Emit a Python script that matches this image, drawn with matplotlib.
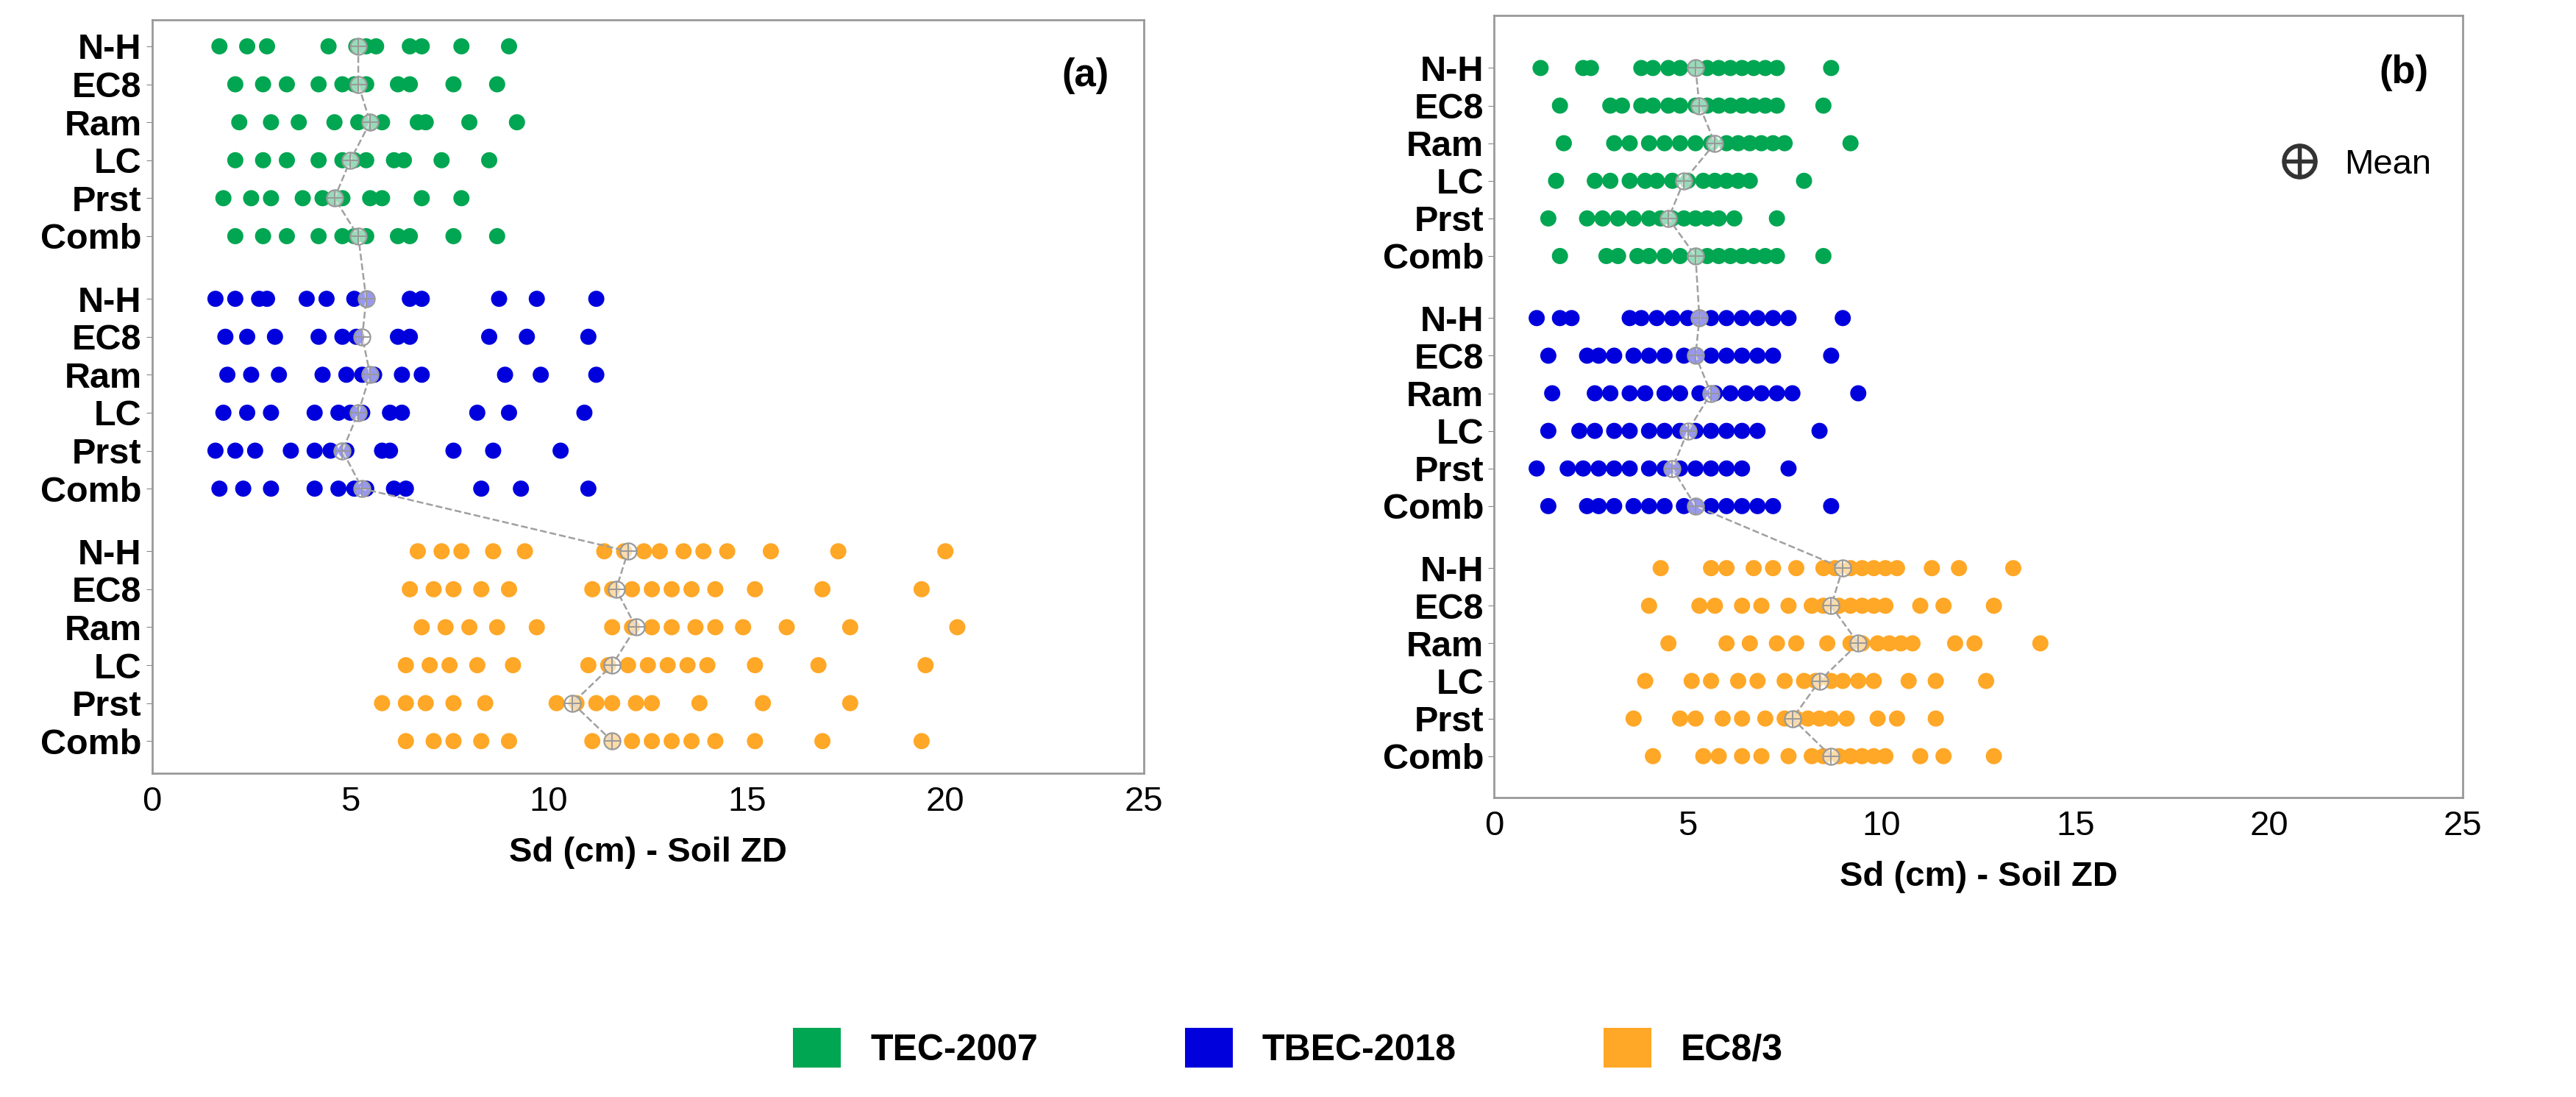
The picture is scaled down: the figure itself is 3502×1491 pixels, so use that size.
import numpy as np
import matplotlib.pyplot as plt
from matplotlib.lines import Line2D
from matplotlib.patches import Patch

plt.rcParams['font.family'] = ['Liberation Sans', 'DejaVu Sans']

rows = ["N-H", "EC8", "Ram", "LC", "Prst", "Comb"]
codes = ["TEC-2007", "TBEC-2018", "EC8/3"]
colors = ["#00a651", "#0000dd", "#ffa726"]

# panel (a) - Sd values per code / method
a_tec = [
    [1.7, 2.4, 2.9, 4.45, 5.15, 5.4, 5.65, 6.5, 6.8, 7.8, 9.0],
    [2.1, 2.8, 3.4, 4.2, 4.8, 5.1, 5.4, 6.2, 6.5, 7.6, 8.7],
    [2.2, 3.0, 3.7, 4.6, 5.2, 5.5, 5.8, 6.7, 6.9, 8.0, 9.2],
    [2.1, 2.8, 3.4, 4.2, 4.8, 5.1, 5.4, 6.1, 6.35, 7.3, 8.5],
    [1.8, 2.5, 3.0, 3.8, 4.3, 4.6, 4.8, 5.5, 5.8, 6.8, 7.8],
    [2.1, 2.8, 3.4, 4.2, 4.8, 5.1, 5.4, 6.2, 6.5, 7.6, 8.7],
]
a_tbec = [
    [1.6, 2.1, 2.7, 2.9, 3.9, 4.4, 5.1, 5.4, 6.5, 6.8, 8.75, 9.7, 11.2],
    [1.85, 2.4, 3.1, 4.2, 4.8, 5.15, 6.2, 6.5, 8.5, 9.45, 11.0],
    [1.9, 2.5, 3.2, 4.3, 4.9, 5.3, 5.6, 6.3, 6.8, 8.9, 9.8, 11.2],
    [1.8, 2.4, 3.0, 4.1, 4.7, 5.0, 5.3, 6.0, 6.3, 8.2, 9.0, 10.9],
    [1.6, 2.1, 2.6, 3.5, 4.1, 4.5, 4.9, 5.8, 6.0, 7.6, 8.6, 10.3],
    [1.7, 2.3, 3.0, 4.1, 4.7, 5.1, 5.4, 6.1, 6.4, 8.3, 9.3, 11.0],
]
a_ec8 = [
    [6.7, 7.3, 7.8, 8.6, 9.4, 11.4, 11.9, 12.4, 12.8, 13.4, 13.9, 14.5, 15.6, 17.3, 20.0],
    [6.5, 7.1, 7.6, 8.3, 9.0, 11.1, 11.6, 12.1, 12.6, 13.1, 13.6, 14.2, 15.2, 16.9, 19.4],
    [6.8, 7.4, 8.0, 8.7, 9.7, 11.6, 12.1, 12.6, 13.1, 13.7, 14.2, 14.9, 16.0, 17.6, 20.3],
    [6.4, 7.0, 7.5, 8.2, 9.1, 11.0, 11.5, 12.0, 12.5, 13.0, 13.5, 14.0, 15.2, 16.8, 19.5],
    [5.8, 6.4, 6.9, 7.6, 8.4, 10.2, 10.7, 11.2, 11.6, 12.2, 12.6, 13.8, 15.4, 17.6],
    [6.4, 7.1, 7.6, 8.3, 9.0, 11.1, 11.6, 12.1, 12.6, 13.1, 13.6, 14.2, 15.2, 16.9, 19.4],
]
a_means = [
    [5.2, 5.2, 5.5, 5.0, 4.6, 5.2],
    [5.4, 5.3, 5.5, 5.2, 4.8, 5.3],
    [12.0, 11.7, 12.2, 11.6, 10.6, 11.6],
]

# panel (b)
b_tec = [
    [1.2, 2.3, 2.5, 3.8, 4.1, 4.5, 4.8, 5.2, 5.5, 5.8, 6.1, 6.4, 6.7, 7.0, 7.3, 8.7],
    [1.7, 3.0, 3.3, 3.8, 4.1, 4.5, 4.8, 5.2, 5.5, 5.8, 6.1, 6.4, 6.7, 7.0, 7.3, 8.5],
    [1.8, 3.1, 3.5, 4.0, 4.4, 4.8, 5.2, 5.6, 6.0, 6.3, 6.6, 6.9, 7.2, 7.5, 9.2],
    [1.6, 2.6, 3.0, 3.5, 3.9, 4.2, 4.6, 5.0, 5.4, 5.7, 6.0, 6.3, 6.6, 8.0],
    [1.4, 2.4, 2.8, 3.2, 3.6, 4.0, 4.3, 4.6, 4.9, 5.2, 5.5, 5.8, 6.2, 7.3],
    [1.7, 2.9, 3.2, 3.7, 4.0, 4.4, 4.8, 5.2, 5.5, 5.8, 6.1, 6.4, 6.7, 7.0, 7.3, 8.5],
]
b_tbec = [
    [1.1, 1.7, 2.0, 3.5, 3.8, 4.2, 4.6, 5.0, 5.3, 5.6, 6.0, 6.4, 6.8, 7.2, 7.6, 9.0],
    [1.4, 2.4, 2.7, 3.1, 3.6, 4.0, 4.4, 4.9, 5.2, 5.6, 6.0, 6.4, 6.8, 7.2, 8.7],
    [1.5, 2.6, 3.0, 3.5, 3.9, 4.4, 4.8, 5.3, 5.7, 6.1, 6.5, 6.9, 7.3, 7.7, 9.4],
    [1.4, 2.2, 2.6, 3.1, 3.5, 4.0, 4.4, 4.8, 5.2, 5.6, 6.0, 6.4, 6.8, 8.4],
    [1.1, 1.9, 2.3, 2.7, 3.1, 3.5, 4.0, 4.4, 4.8, 5.2, 5.6, 6.0, 6.4, 7.6],
    [1.4, 2.4, 2.7, 3.1, 3.6, 4.0, 4.4, 4.9, 5.2, 5.6, 6.0, 6.4, 6.8, 7.2, 8.7],
]
b_ec8 = [
    [4.3, 5.6, 6.0, 6.7, 7.2, 7.8, 8.5, 8.8, 9.2, 9.5, 9.8, 10.1, 10.4, 11.3, 12.0, 13.4],
    [4.0, 5.3, 5.7, 6.4, 6.9, 7.6, 8.2, 8.5, 8.9, 9.2, 9.5, 9.8, 10.1, 11.0, 11.6, 12.9],
    [4.5, 6.0, 6.6, 7.3, 7.8, 8.6, 9.2, 9.5, 9.9, 10.2, 10.5, 10.8, 11.9, 12.4, 14.1],
    [3.9, 5.1, 5.6, 6.3, 6.8, 7.5, 8.0, 8.3, 8.7, 9.0, 9.4, 9.8, 10.7, 11.4, 12.7],
    [3.6, 4.8, 5.2, 5.9, 6.4, 7.0, 7.5, 7.8, 8.1, 8.4, 8.7, 9.1, 9.9, 10.4, 11.4],
    [4.1, 5.4, 5.8, 6.4, 6.9, 7.6, 8.2, 8.5, 8.9, 9.2, 9.5, 9.8, 10.1, 11.0, 11.6, 12.9],
]
b_means = [
    [5.2, 5.3, 5.7, 4.9, 4.5, 5.2],
    [5.3, 5.2, 5.6, 5.0, 4.6, 5.2],
    [9.0, 8.7, 9.4, 8.4, 7.7, 8.7],
]

GROUP_STEP = 6.65


def draw_panel(ax, groups, means, tag, top_pad, bot_pad):
    ypos_all, labels_all, mean_x, mean_y = [], [], [], []
    for g, (grp, col) in enumerate(zip(groups, colors)):
        for i, vals in enumerate(grp):
            y = g * GROUP_STEP + i
            ax.scatter(vals, [y] * len(vals), s=250, color=col, edgecolors="none", zorder=3)
            ypos_all.append(y)
            labels_all.append(rows[i])
            mean_x.append(means[g][i])
            mean_y.append(y)
    ax.plot(mean_x, mean_y, color="#a0a0a0", linestyle="--", linewidth=1.8, zorder=4)
    # mean marker: light open circle with cross
    ax.plot(mean_x, mean_y, linestyle="none", marker="o", markersize=16,
            markerfacecolor=(1, 1, 1, 0.6), markeredgecolor="#999999", markeredgewidth=1.6, zorder=5)
    ax.plot(mean_x, mean_y, linestyle="none", marker="+", markersize=16,
            color="#999999", markeredgewidth=1.4, zorder=6)
    ax.set_yticks(ypos_all)
    ax.set_yticklabels(labels_all, fontsize=35, fontweight="bold")
    ax.set_ylim(2 * GROUP_STEP + 5 + bot_pad, -top_pad)
    ax.set_xlim(0, 25)
    ax.set_xticks([0, 5, 10, 15, 20, 25])
    ax.tick_params(axis="x", labelsize=34, length=0, pad=12)
    ax.tick_params(axis="y", length=6, color="#888888", pad=4)
    ax.set_xlabel("Sd (cm) - Soil ZD", fontsize=34, fontweight="bold", labelpad=18)
    for s in ax.spines.values():
        s.set_color("#999999")
        s.set_linewidth(2)
    ax.text(0.965, 0.95, tag, transform=ax.transAxes, ha="right", va="top",
            fontsize=38, fontweight="bold")


fig = plt.figure(figsize=(35.02, 14.91), dpi=100)
ax_a = fig.add_axes([0.059, 0.295, 0.385, 0.687])
ax_b = fig.add_axes([0.58, 0.273, 0.376, 0.713])

draw_panel(ax_a, [a_tec, a_tbec, a_ec8], a_means, "(a)", 0.7, 0.85)
draw_panel(ax_b, [b_tec, b_tbec, b_ec8], b_means, "(b)", 1.4, 1.1)

mean_handle = Line2D([], [], linestyle="none", marker="$\\bigoplus$", markersize=34, color="#333333")
ax_b.legend([mean_handle], ["Mean"], loc="upper right", bbox_to_anchor=(1.0, 0.87),
            frameon=False, fontsize=34, handletextpad=0.3)

handles = [Patch(facecolor=c, edgecolor="none") for c in colors]
fig.legend(handles, codes, loc="center", bbox_to_anchor=(0.5, 0.045), ncol=3,
           frameon=False, prop={"size": 36, "weight": "bold"},
           handlelength=1.3, handleheight=1.3, columnspacing=4, handletextpad=0.8)

fig.savefig("out.png", dpi=100)
